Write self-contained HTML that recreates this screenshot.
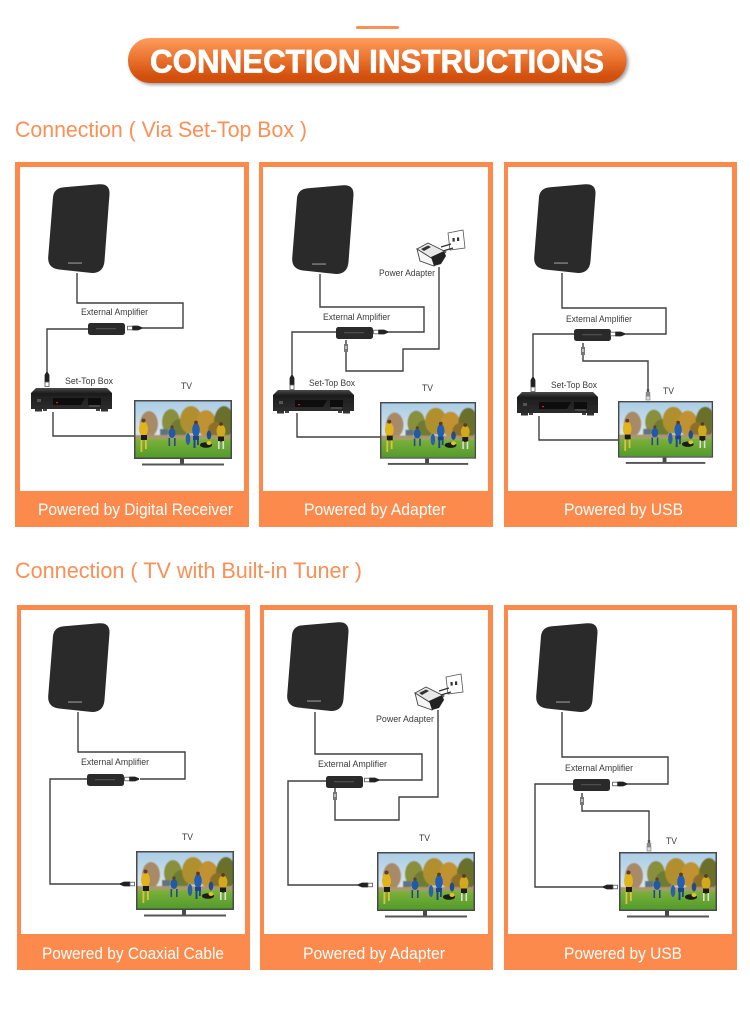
<!DOCTYPE html>
<html><head><meta charset="utf-8"><title>Connection Instructions</title>
<style>
html,body{margin:0;padding:0;background:#fff}
svg{display:block}
text{font-family:"Liberation Sans",sans-serif}
.o{fill:#fc8a4c}
.w{fill:none;stroke:#3f3f3f;stroke-width:1.4}
.l{font-size:9px;fill:#3a3a3a}
.c{font-size:17px;fill:#fff}
.h{font-size:22px;fill:#fb8f55}
</style></head><body>
<svg width="750" height="1011" viewBox="0 0 750 1011" xmlns="http://www.w3.org/2000/svg">
<defs>
<linearGradient id="pill" x1="0" y1="0" x2="0" y2="1"><stop offset="0" stop-color="#ff9c5e"/><stop offset=".45" stop-color="#ea7430"/><stop offset=".85" stop-color="#d2500e"/><stop offset="1" stop-color="#d04e0c"/></linearGradient>
<linearGradient id="stbg" x1="0" y1="0" x2="0" y2="1"><stop offset="0" stop-color="#4a4a4a"/><stop offset=".25" stop-color="#1d1d1d"/><stop offset="1" stop-color="#2c2c2c"/></linearGradient>
<linearGradient id="sky" x1="0" y1="0" x2="0" y2="1"><stop offset="0" stop-color="#a9cde6"/><stop offset="1" stop-color="#dfe8ea"/></linearGradient>
<linearGradient id="grass" x1="0" y1="0" x2="0" y2="1"><stop offset="0" stop-color="#7cb13a"/><stop offset="1" stop-color="#4f9a2a"/></linearGradient>
<filter id="sh" x="-5%" y="-20%" width="110%" height="150%"><feDropShadow dx="2" dy="2" stdDeviation="1.6" flood-color="#555" flood-opacity=".55"/></filter>
<filter id="soft" x="-2%" y="-2%" width="104%" height="104%"><feGaussianBlur stdDeviation="0.25"/></filter>
<filter id="soft2" x="-5%" y="-5%" width="110%" height="110%"><feGaussianBlur stdDeviation="0.45"/></filter>
<clipPath id="scr"><rect x="1.5" y="1.5" width="95" height="56"/></clipPath>
<g id="ant">
<path d="M16,3.2 L51,0.3 Q62,-0.5 61.5,10 L56.5,77 Q55.5,89 44,89 L11,85.5 Q-0.5,84 0.2,73 L5,13 Q6,4 16,3.2Z" fill="#2a2a2c"/>
<rect x="20" y="78.5" width="14" height="1.1" fill="#9a9a9a"/>
</g>
<g id="amp">
<rect x="0" y="0" width="37" height="12" rx="2.5" fill="#2a2a2a"/>
<rect x="8" y="5" width="20" height="1.3" fill="#4d4d4d"/>
</g>
<g id="pr"><rect x=".5" y="-1.8" width="5" height="3.6" fill="#fff" stroke="#555" stroke-width=".8"/><path d="M5.5,-2.4 H11 L15,-.7 V.7 L11,2.4 H5.5Z" fill="#222"/></g>
<g id="pl"><path d="M0,-.7 L4,-2.4 H10 V2.4 H4 L0,.7Z" fill="#222"/><rect x="10" y="-1.8" width="4.5" height="3.6" fill="#fff" stroke="#555" stroke-width=".8"/></g>
<g id="pd"><path d="M-.7,0 L-2.4,3 V10 H2.4 V3 L.7,0Z" fill="#222"/><rect x="-2" y="10" width="4" height="4.5" fill="#fff" stroke="#555" stroke-width=".8"/></g>
<g id="pu"><rect x="-.8" y="0" width="1.6" height="4" fill="#555"/><rect x="-2" y="4" width="4" height="8" fill="#777"/><rect x="-1" y="6" width="2" height="3" fill="#bbb"/></g>
<g id="usb"><rect x="-1.2" y="0" width="2.4" height="3" fill="#555"/><rect x="-2.2" y="3" width="4.4" height="4" fill="#8a8a8a"/><rect x="-2" y="7" width="4" height="4" fill="#ddd" stroke="#777" stroke-width=".6"/></g>
<g id="stb">
<path d="M5,0 H76 L81,5 V21 H0 V5Z" fill="url(#stbg)"/>
<rect x="4" y="21" width="7" height="2.5" fill="#333"/><rect x="70" y="21" width="7" height="2.5" fill="#333"/><rect x="12" y="21" width="4" height="2" fill="#444"/><rect x="65" y="21" width="4" height="2" fill="#444"/>
<path d="M22,10 H54 L50,17 H22Z" fill="#0c0c0c"/><rect x="25" y="14" width="2" height="1.2" fill="#c22"/>
<rect x="57" y="10" width="13" height="7" fill="#0d0d0d"/>
<rect x="6" y="11" width="4" height="3" fill="#555"/>
<rect x="58" y="17.5" width="11" height="1" fill="#666"/>
</g>
<g id="tv">
<rect x=".75" y=".75" width="96.5" height="57.5" fill="#fff" stroke="#48484c" stroke-width="1.5"/>
<g clip-path="url(#scr)"><g filter="url(#soft2)">
<rect x="0" y="0" width="98" height="40" fill="url(#sky)"/>
<ellipse cx="15" cy="24" rx="9" ry="13" fill="#a98a66"/>
<ellipse cx="37" cy="22" rx="9" ry="13" fill="#8a8f3a"/>
<ellipse cx="46" cy="28" rx="9" ry="9" fill="#6d7c33"/>
<ellipse cx="57" cy="20" rx="11" ry="14" fill="#b0902f"/>
<ellipse cx="72" cy="23" rx="10" ry="13" fill="#c09230"/>
<ellipse cx="90" cy="22" rx="10" ry="16" fill="#6a6f2c"/>
<ellipse cx="82" cy="30" rx="8" ry="8" fill="#8c6f2a"/>
<rect x="26" y="29" width="8" height="6" fill="#5f7284"/>
<rect x="0" y="35" width="98" height="4" fill="#a8986a"/>
<rect x="0" y="39" width="98" height="20" fill="url(#grass)"/>
</g>
<ellipse cx="9.5" cy="29" rx="4.5" ry="7.5" fill="#e0b41c"/><rect x="7" y="35" width="6" height="5" fill="#1c1c1c"/><rect x="6.5" y="40" width="1.8" height="12" fill="#e2c03a"/><rect x="11" y="40" width="1.8" height="9" fill="#e2c03a"/><circle cx="9.5" cy="20.5" r="2" fill="#5e4028"/>
<ellipse cx="38" cy="33" rx="3.5" ry="5" fill="#2458a8"/><rect x="34.5" y="38" width="1.6" height="8" fill="#244a90"/><rect x="40" y="38" width="1.6" height="8" fill="#244a90"/><circle cx="38" cy="27" r="1.6" fill="#5e4028"/>
<ellipse cx="62" cy="30" rx="3.8" ry="7" fill="#235eb4"/><rect x="59" y="36" width="6" height="4" fill="#1f4490"/><rect x="59.5" y="40" width="2" height="8" fill="#1f4490"/><rect x="63" y="40" width="1.8" height="5" fill="#1f4490"/><circle cx="62" cy="22.5" r="1.9" fill="#5a3a28"/>
<ellipse cx="54" cy="39" rx="2.3" ry="6" fill="#2a60aa"/>
<ellipse cx="72" cy="45" rx="6" ry="2.8" fill="#1c1c1c"/><ellipse cx="75" cy="43" rx="2.5" ry="2" fill="#dcc628"/>
<ellipse cx="75" cy="35" rx="2.3" ry="4.5" fill="#234c8c"/>
<ellipse cx="87" cy="31" rx="4.5" ry="6.5" fill="#d2a81e"/><rect x="84" y="36.5" width="6" height="5" fill="#1c1c1c"/><rect x="84" y="41" width="1.6" height="8" fill="#ddd"/><rect x="88.5" y="41" width="1.6" height="8" fill="#ddd"/><circle cx="87" cy="24" r="1.9" fill="#5a3a28"/>
</g>
<rect x="46" y="59" width="4" height="5" fill="#4a4a4e"/>
<rect x="8" y="63.5" width="82" height="2" fill="#55555a"/>
</g>
<g id="ada">
<path d="M31,3 L46,0 L48,18 L33,20Z" fill="#fff" stroke="#555" stroke-width=".8"/>
<rect x="35.5" y="8" width="2.2" height="3.6" fill="#333"/><rect x="40" y="7.4" width="2.2" height="3.6" fill="#333"/>
<path d="M24,17 L34,14 M26,21 L36,18" stroke="#333" stroke-width="1.3"/>
<path d="M0,19 L11,13 L29,22 L19,31Z" fill="#e8e8e8" stroke="#444" stroke-width=".9"/>
<path d="M0,19 L19,31 L17,36 L3,31Z" fill="#f6f6f6" stroke="#444" stroke-width=".9"/>
<path d="M4,19 L11,15.5 L14,17 L7,21Z" fill="#333"/>
<path d="M14,27 L27,21 L29,26 L24,34 L17,36Z" fill="#222"/>
</g>
</defs>

<!-- Header -->
<rect x="356" y="26" width="43" height="3" rx="1.5" fill="#fb8f55"/>
<rect x="128" y="38" width="498.5" height="45" rx="22" fill="url(#pill)" filter="url(#sh)"/>
<text x="150" y="72.5" font-size="32" font-weight="bold" fill="#fff" stroke="#fff" stroke-width=".7" textLength="454" lengthAdjust="spacingAndGlyphs">CONNECTION INSTRUCTIONS</text>
<text x="15" y="137" class="h" textLength="292" lengthAdjust="spacingAndGlyphs">Connection ( Via Set-Top Box )</text>
<text x="15" y="578" class="h" textLength="347" lengthAdjust="spacingAndGlyphs">Connection ( TV with Built-in Tuner )</text>

<!-- Panels -->
<rect class="o" x="15" y="162" width="234" height="365"/><rect fill="#fff" x="20" y="167" width="224" height="324"/>
<rect class="o" x="259" y="162" width="234" height="365"/><rect fill="#fff" x="263" y="167" width="225" height="324"/>
<rect class="o" x="504" y="162" width="233" height="365"/><rect fill="#fff" x="508" y="167" width="224" height="324"/>
<rect class="o" x="17" y="605" width="233" height="365"/><rect fill="#fff" x="21" y="610" width="224" height="324"/>
<rect class="o" x="260" y="605" width="233" height="365"/><rect fill="#fff" x="264" y="610" width="224" height="324"/>
<rect class="o" x="504" y="605" width="233" height="365"/><rect fill="#fff" x="508" y="610" width="224" height="324"/>

<text class="c" x="38" y="515" textLength="195" lengthAdjust="spacingAndGlyphs">Powered by Digital Receiver</text>
<text class="c" x="304" y="515" textLength="142" lengthAdjust="spacingAndGlyphs">Powered by Adapter</text>
<text class="c" x="564" y="515" textLength="119" lengthAdjust="spacingAndGlyphs">Powered by USB</text>
<text class="c" x="42" y="959" textLength="182" lengthAdjust="spacingAndGlyphs">Powered by Coaxial Cable</text>
<text class="c" x="303" y="959" textLength="142" lengthAdjust="spacingAndGlyphs">Powered by Adapter</text>
<text class="c" x="564" y="959" textLength="118" lengthAdjust="spacingAndGlyphs">Powered by USB</text>

<g filter="url(#soft)">
<!-- R1 P1 -->
<path class="w" d="M77,273V303H183V328H142"/>
<path class="w" d="M88,329H47V372"/>
<path class="w" d="M53,412V436H134"/>
<use href="#ant" x="48" y="184"/>
<use href="#amp" x="88" y="323"/>
<use href="#pr" x="127" y="328"/>
<use href="#pd" x="47" y="372"/>
<use href="#stb" x="31" y="388"/>
<use href="#tv" x="134" y="400"/>

<!-- R1 P2 -->
<path class="w" d="M320,274V307H424V332H388"/>
<path class="w" d="M336,332H292V375"/>
<path class="w" d="M297,413V437H380"/>
<path class="w" d="M439,267V349H403V371H346V352"/>
<use href="#ant" x="292" y="185"/>
<use href="#amp" x="336" y="327"/>
<use href="#pr" x="373" y="332"/>
<use href="#pd" x="292" y="375"/>
<use href="#pu" x="346" y="340"/>
<use href="#stb" x="273" y="390"/>
<use href="#tv" transform="translate(380,402) scale(.98,.96)"/>
<use href="#ada" x="417" y="230"/>

<!-- R1 P3 -->
<path class="w" d="M562,273V308H666V334H625"/>
<path class="w" d="M574,334H533V377"/>
<path class="w" d="M539,416V440H618"/>
<path class="w" d="M583,355V361H648V390"/>
<use href="#ant" x="534" y="184"/>
<use href="#amp" x="574" y="329"/>
<use href="#pr" x="610" y="334"/>
<use href="#pd" x="533" y="377"/>
<use href="#pu" x="583" y="343"/>
<use href="#usb" x="648" y="389"/>
<use href="#stb" x="517" y="392"/>
<use href="#tv" transform="translate(618,401) scale(.97,.96)"/>

<!-- R2 P1 -->
<path class="w" d="M78,712V752H185V779H140"/>
<path class="w" d="M87,779H50V884H120"/>
<use href="#ant" x="48" y="623"/>
<use href="#amp" x="87" y="774"/>
<use href="#pr" x="124" y="779"/>
<use href="#tv" x="136" y="851"/>
<use href="#pl" x="120" y="884"/>

<!-- R2 P2 -->
<path class="w" d="M315,712V754H422V780H379"/>
<path class="w" d="M326,781H288V885H358"/>
<path class="w" d="M438,710V797H399V820H335V800"/>
<use href="#ant" x="287" y="622"/>
<use href="#amp" x="326" y="776"/>
<use href="#pr" x="364" y="780"/>
<use href="#pu" x="335" y="788"/>
<use href="#tv" x="377" y="852"/>
<use href="#pl" x="358" y="885"/>
<use href="#ada" x="415" y="674"/>

<!-- R2 P3 -->
<path class="w" d="M562,712V757H668V784H627"/>
<path class="w" d="M573,784H535V887H603"/>
<path class="w" d="M582,803V811H649V840"/>
<use href="#ant" x="536" y="623"/>
<use href="#amp" x="573" y="779"/>
<use href="#pr" x="612" y="784"/>
<use href="#pu" x="582" y="793"/>
<use href="#usb" x="649" y="840"/>
<use href="#tv" x="619" y="852"/>
<use href="#pl" x="603" y="887"/>

<!-- Labels -->
<text class="l" x="81" y="315" textLength="67" lengthAdjust="spacingAndGlyphs">External Amplifier</text>
<text class="l" x="65" y="384" textLength="48" lengthAdjust="spacingAndGlyphs">Set-Top Box</text>
<text class="l" x="181" y="389" textLength="11" lengthAdjust="spacingAndGlyphs">TV</text>

<text class="l" x="323" y="320" textLength="67" lengthAdjust="spacingAndGlyphs">External Amplifier</text>
<text class="l" x="309" y="386" textLength="46" lengthAdjust="spacingAndGlyphs">Set-Top Box</text>
<text class="l" x="422" y="391" textLength="11" lengthAdjust="spacingAndGlyphs">TV</text>
<text class="l" x="379" y="276" textLength="56" lengthAdjust="spacingAndGlyphs">Power Adapter</text>

<text class="l" x="566" y="322" textLength="66" lengthAdjust="spacingAndGlyphs">External Amplifier</text>
<text class="l" x="551" y="388" textLength="46" lengthAdjust="spacingAndGlyphs">Set-Top Box</text>
<text class="l" x="663" y="394" textLength="11" lengthAdjust="spacingAndGlyphs">TV</text>

<text class="l" x="81" y="765" textLength="68" lengthAdjust="spacingAndGlyphs">External Amplifier</text>
<text class="l" x="182" y="840" textLength="11" lengthAdjust="spacingAndGlyphs">TV</text>

<text class="l" x="318" y="767" textLength="69" lengthAdjust="spacingAndGlyphs">External Amplifier</text>
<text class="l" x="419" y="841" textLength="11" lengthAdjust="spacingAndGlyphs">TV</text>
<text class="l" x="376" y="722" textLength="58" lengthAdjust="spacingAndGlyphs">Power Adapter</text>

<text class="l" x="565" y="771" textLength="68" lengthAdjust="spacingAndGlyphs">External Amplifier</text>
<text class="l" x="666" y="844" textLength="11" lengthAdjust="spacingAndGlyphs">TV</text>
</g>
</svg>
</body></html>
